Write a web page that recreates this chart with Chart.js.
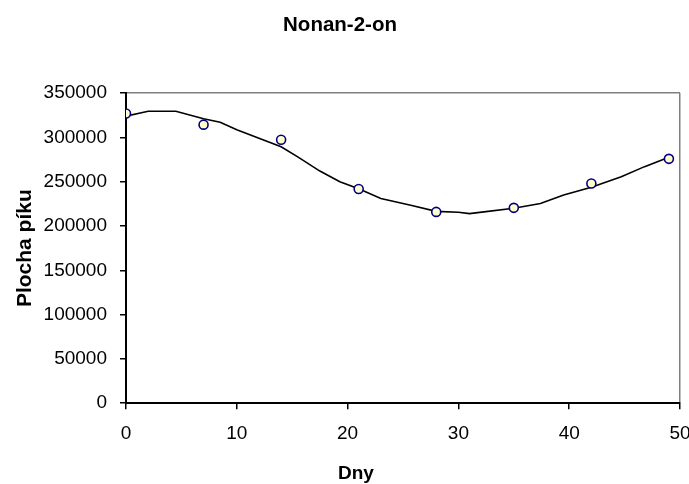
<!DOCTYPE html>
<html>
<head>
<meta charset="utf-8">
<script src="https://cdn.jsdelivr.net/npm/chart.js@4.4.1/dist/chart.umd.min.js"></script>
<style>
  html, body { margin: 0; padding: 0; background: #fff; }
  #graf { display: block; }
</style>
</head>
<body>
<canvas id="graf" width="689" height="484"></canvas>
<script>
// namerene hodnoty
const dny = [0, 7, 14, 21, 28, 35, 42, 49];
const plocha = [326900, 314400, 297400, 241700, 215900, 220500, 248000, 275800];

// spojnice trendu
const trendDny = [0, 2, 4.5, 7, 8.5, 10, 12, 14, 15.5, 17.5, 19.3, 21, 23, 25.7, 28, 30, 31, 32.3, 35, 37.4, 39.5, 42, 44.7, 46.8, 49];
const trendPlocha = [324000, 329500, 329500, 321000, 317000, 308700, 299000, 289500, 278000, 262000, 250000, 242000, 231000, 223500, 216500, 215500, 214000, 215900, 220000, 225400, 234900, 243800, 255700, 267000, 277500];

const yTicks = [0, 50000, 100000, 150000, 200000, 250000, 300000, 350000];
const xTicks = [0, 10, 20, 30, 40, 50];

const pismo = "'Liberation Sans', Arial, sans-serif";

// popisek osy x je v originale posunuty doleva od stredu grafu
const popisOsyX = {
    id: 'popisOsyX',
    afterDraw(chart) {
        const c = chart.ctx;
        const a = chart.chartArea;
        c.save();
        c.font = 'bold 19px ' + pismo;
        c.fillStyle = '#000';
        c.textAlign = 'center';
        c.textBaseline = 'middle';
        c.fillText('Dny', a.left + (a.right - a.left) * 0.415, chart.height - 10);
        c.restore();
    }
};

const ctx = document.getElementById('graf').getContext('2d');
new Chart(ctx, {
    type: 'scatter',
    data: {
        datasets: [{
            label: 'Nonan-2-on',
            data: dny.map((d, i) => ({ x: d, y: plocha[i] })),
            pointRadius: 4.5,
            pointHoverRadius: 4.5,
            borderWidth: 1.6,
            borderColor: '#000080',
            backgroundColor: '#FFFFCC',
            order: 1
        }, {
            label: 'trend',
            data: trendDny.map((d, i) => ({ x: d, y: trendPlocha[i] })),
            showLine: true,
            pointRadius: 0,
            borderColor: '#000',
            borderWidth: 1.6,
            tension: 0,
            order: 2
        }]
    },
    options: {
        responsive: false,
        animation: false,
        layout: { padding: { left: 0, right: 9, top: 0, bottom: 26 } },
        plugins: {
            legend: { display: false },
            tooltip: { enabled: false },
            title: {
                display: true,
                text: 'Nonan-2-on',
                color: '#000',
                font: { family: pismo, size: 20.5, weight: 'bold' },
                padding: { top: 13.5, bottom: 55 }
            }
        },
        scales: {
            x: {
                type: 'linear',
                min: 0,
                max: 50,
                afterBuildTicks: scale => { scale.ticks = xTicks.map(v => ({ value: v })); },
                afterFit: scale => { scale.paddingRight = 9; },
                ticks: {
                    color: '#000',
                    font: { family: pismo, size: 19 },
                    padding: 13,
                    maxRotation: 0
                },
                grid: {
                    drawOnChartArea: true,
                    color: c => c.tick && c.tick.value === 50 ? '#808080' : 'rgba(0,0,0,0)',
                    tickColor: '#000',
                    tickLength: 6,
                    lineWidth: 1.5
                },
                border: { color: '#000', width: 2 }
            },
            y: {
                type: 'linear',
                min: 0,
                max: 350000,
                afterBuildTicks: scale => { scale.ticks = yTicks.map(v => ({ value: v })); },
                ticks: {
                    color: '#000',
                    font: { family: pismo, size: 19 },
                    padding: 13,
                    callback: v => String(v)
                },
                grid: {
                    drawOnChartArea: true,
                    color: c => c.tick && c.tick.value === 350000 ? '#808080' : 'rgba(0,0,0,0)',
                    tickColor: '#000',
                    tickLength: 6,
                    lineWidth: 1.5
                },
                border: { color: '#000', width: 2 },
                title: {
                    display: true,
                    text: 'Plocha píku',
                    color: '#000',
                    font: { family: pismo, size: 21, weight: 'bold' },
                    padding: { top: 12.4, bottom: -7 }
                }
            }
        }
    },
    plugins: [popisOsyX]
});
</script>
</body>
</html>
